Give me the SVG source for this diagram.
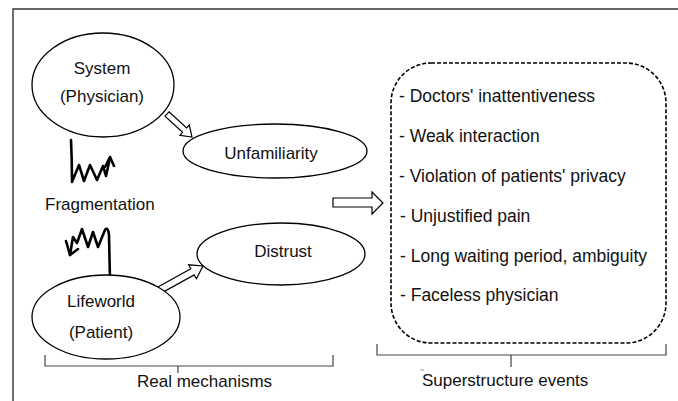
<svg xmlns="http://www.w3.org/2000/svg" width="678" height="401" viewBox="0 0 678 401">
<style>
text{font-family:"Liberation Sans",Arial,sans-serif;font-size:17px;fill:#111}
.l{font-size:17.5px}
.e{fill:#fff;stroke:#000;stroke-width:1.3}
.ha{fill:#fff;stroke:#000;stroke-width:1.2;stroke-linejoin:miter}
.zz{fill:none;stroke:#000;stroke-width:2.6;stroke-linejoin:round;stroke-linecap:round}
.br{fill:none;stroke:#444;stroke-width:1.2}
</style>
<rect width="678" height="401" fill="#fff"/>
<path d="M13,401 V9 H678" fill="none" stroke="#333" stroke-width="1.4"/>
<g id="connectors">
<polygon class="ha" points="169,111.8 186.6,128 189.3,125 192,137 179.9,135.4 182.6,132.4 165,116.2"/>
<polygon class="ha" points="154.3,288.9 190.8,268.7 188.6,264.8 203,266 196.4,278.8 194.2,274.9 157.7,295.1"/>
<polygon class="ha" points="333,198 372,198 372,192 383,203 372,214 372,207 333,207"/>
<path class="zz" d="M71,140 Q72,160 72,182 L79,165 L84,181 L90,165 L97,180 L103,166 L106,176 L110,158"/>
<path class="zz" d="M105,167 L110,157 L114,166"/>
<path class="zz" d="M110,281 L109,235 Q108,226 105,230 L98,247 L93,232 L88,247 L82,229 L77,243 L73,237 L70,255"/>
<path class="zz" d="M66,241 L70,255 L78,249"/>
</g>
<g id="system">
<ellipse class="e" cx="103" cy="85" rx="71" ry="52"/>
<text x="102" y="74" text-anchor="middle">System</text>
<text x="102" y="102" text-anchor="middle">(Physician)</text>
</g>
<g id="unfamiliarity">
<ellipse class="e" cx="275" cy="151" rx="92" ry="27"/>
<text x="271" y="159" text-anchor="middle">Unfamiliarity</text>
</g>
<g id="fragmentation">
<text x="45" y="210">Fragmentation</text>
</g>
<g id="lifeworld">
<ellipse class="e" cx="106" cy="317" rx="74" ry="42"/>
<text x="101" y="307" text-anchor="middle">Lifeworld</text>
<text x="101" y="338" text-anchor="middle">(Patient)</text>
</g>
<g id="distrust">
<ellipse class="e" cx="281" cy="254" rx="84" ry="31"/>
<text x="283" y="257" text-anchor="middle">Distrust</text>
</g>
<g id="events">
<rect x="391" y="63" width="275" height="280" rx="40" ry="40" fill="none" stroke="#000" stroke-width="1.6" stroke-dasharray="4 2"/>
<text class="l" x="399" y="102">- Doctors' inattentiveness</text>
<text class="l" x="399" y="142">- Weak interaction</text>
<text class="l" x="399" y="182">- Violation of patients' privacy</text>
<text class="l" x="400" y="222">- Unjustified pain</text>
<text class="l" x="400" y="262">- Long waiting period, ambiguity</text>
<text class="l" x="400" y="301">- Faceless physician</text>
</g>
<g id="real-mechanisms">
<path class="br" d="M45,355 V366 H333 V355 M178,366 V373"/>
<text x="137" y="387">Real mechanisms</text>
</g>
<g id="superstructure">
<path class="br" d="M377,344 V355 H666 V344 M511,355 V367"/>
<line x1="420" y1="370" x2="424" y2="370" stroke="#999" stroke-width="1"/>
<text x="422" y="386">Superstructure events</text>
</g>
</svg>
